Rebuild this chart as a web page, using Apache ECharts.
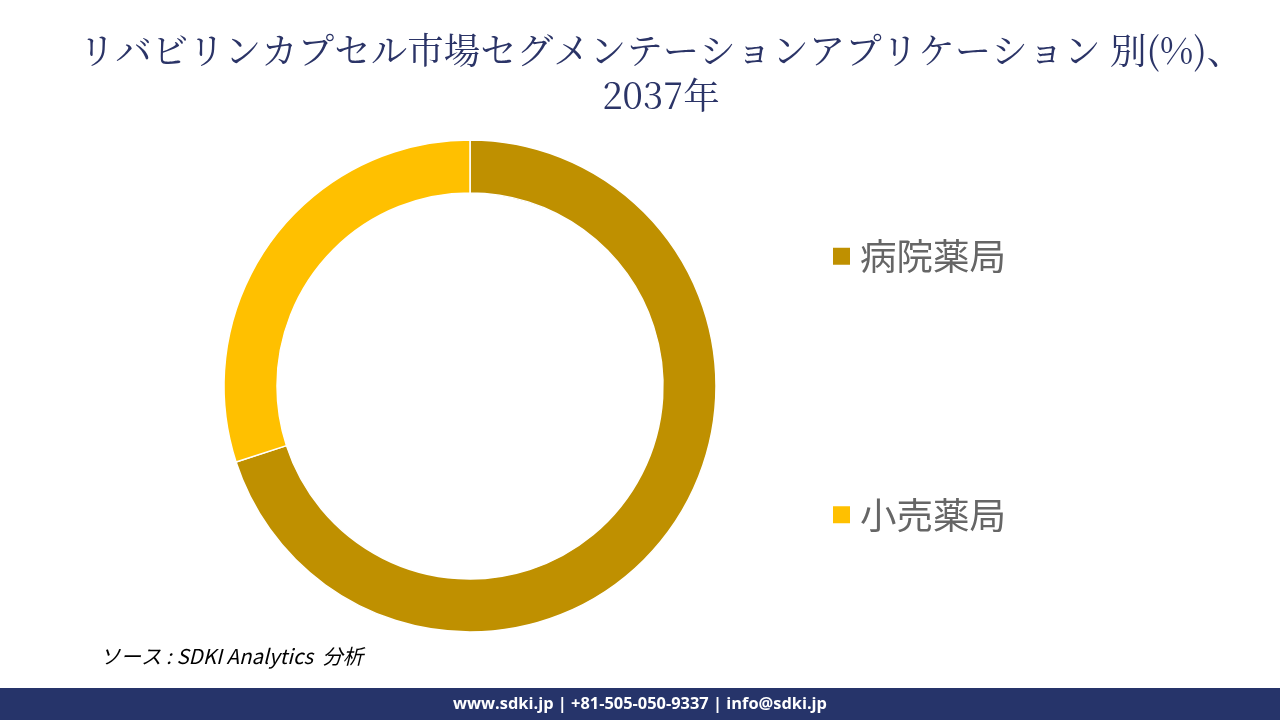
<!DOCTYPE html>
<html>
<head>
<meta charset="utf-8">
<script src="https://cdn.jsdelivr.net/npm/echarts@6/dist/echarts.min.js"></script>
<style>html,body{margin:0;padding:0;background:#fff}#c{width:1280px;height:720px}</style>
</head>
<body>
<div id="c"></div>
<script>
const categories = ['病院薬局', '小売薬局'];
const values = [70, 30];
const colors = ['#BF9000', '#FFC000'];
const titleText = 'リバビリンカプセル市場セグメンテーションアプリケーション 別(%)、\n2037年';
const sourceText = 'ソース : SDKI Analytics  分析';
const footerText = 'www.sdki.jp | +81-505-050-9337 | info@sdki.jp';

const chart = echarts.init(document.getElementById('c'));
chart.setOption({
  animation: false,
  backgroundColor: '#fff',
  title: {
    text: titleText,
    left: 656,
    textAlign: 'center',
    top: 23,
    textStyle: {
      fontFamily: '"Noto Serif CJK JP", "Liberation Serif", "Noto Sans CJK JP", serif',
      fontWeight: 'normal',
      fontSize: 36.5,
      color: '#2B3467',
      lineHeight: 45
    }
  },
  legend: {
    orient: 'vertical',
    left: 826,
    top: 233,
    itemWidth: 19,
    itemHeight: 19,
    itemGap: 222,
    icon: 'rect',
    data: categories,
    textStyle: {
      fontFamily: '"Noto Sans CJK JP", sans-serif',
      fontSize: 36.5,
      color: '#666666',
      padding: [0, 0, 0, 4]
    }
  },
  color: colors,
  series: [{
    type: 'pie',
    center: [470, 386],
    radius: [193, 246],
    startAngle: 90,
    clockwise: true,
    label: { show: false },
    labelLine: { show: false },
    itemStyle: { borderColor: '#fff', borderWidth: 1.5 },
    emphasis: { disabled: true },
    data: categories.map((n, i) => ({ name: n, value: values[i] }))
  }],
  graphic: [
    {
      type: 'text',
      left: 100,
      top: 646,
      style: {
        text: sourceText,
        fontFamily: '"Noto Sans CJK JP", sans-serif',
        fontStyle: 'italic',
        fontSize: 20.5,
        fill: '#000'
      }
    },
    {
      type: 'rect',
      shape: { x: 0, y: 688, width: 1280, height: 32 },
      style: { fill: '#26346A' }
    },
    {
      type: 'text',
      x: 640,
      y: 704,
      style: {
        text: footerText,
        fontFamily: '"Open Sans", sans-serif',
        fontWeight: 'bold',
        fontSize: 16.4,
        fill: '#fff',
        align: 'center',
        verticalAlign: 'middle'
      }
    }
  ]
});
</script>
</body>
</html>
